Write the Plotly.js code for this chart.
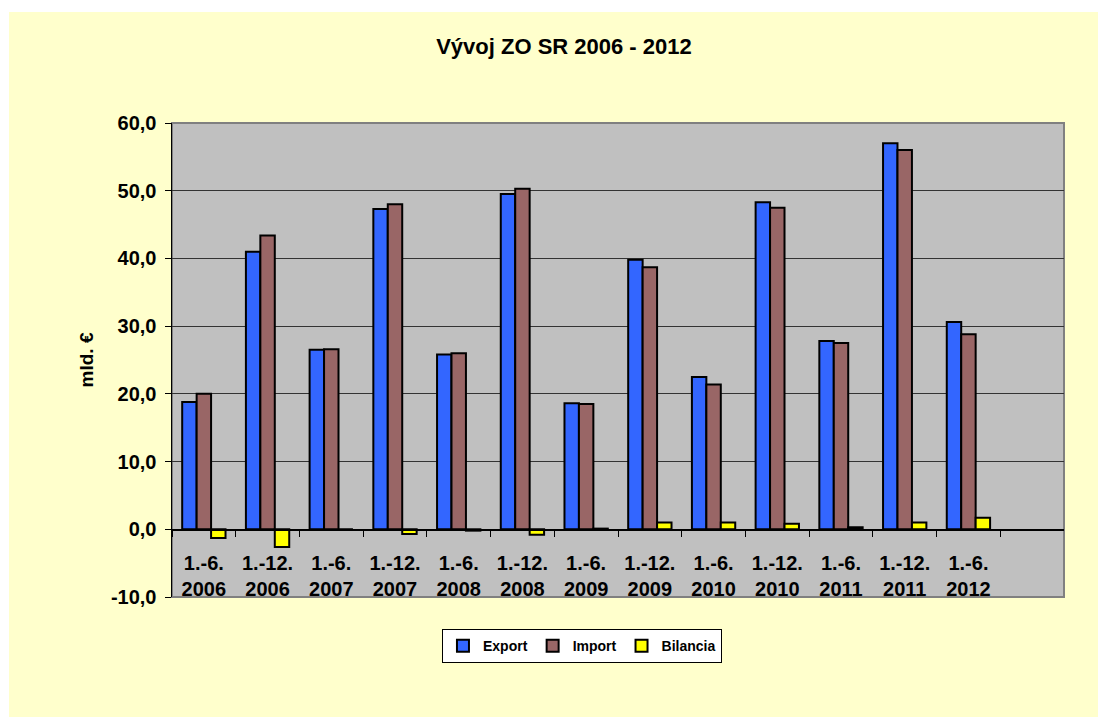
<!DOCTYPE html>
<html>
<head>
<meta charset="utf-8">
<script src="https://cdn.plot.ly/plotly-3.0.1.min.js"></script>
<style>
  html, body { margin: 0; padding: 0; background: #FFFFCC; overflow: hidden; width: 1098px; height: 717px; }
  #bg { position: absolute; left: 0; top: 0; width: 1098px; height: 12px; background: #ffffff; }
  #bgl { position: absolute; left: 0; top: 0; width: 9px; height: 717px; background: #ffffff; }
  #chart { position: absolute; left: 9px; top: 12px; width: 1089px; height: 705px; }
</style>
</head>
<body>
<div id="bg"></div>
<div id="bgl"></div>
<div id="chart"></div>
<script>
const periods = ['1.-6.', '1.-12.', '1.-6.', '1.-12.', '1.-6.', '1.-12.', '1.-6.', '1.-12.', '1.-6.', '1.-12.', '1.-6.', '1.-12.', '1.-6.'];
const years = ['2006', '2006', '2007', '2007', '2008', '2008', '2009', '2009', '2010', '2010', '2011', '2011', '2012'];
const exportVals = [18.8, 41.0, 26.5, 47.3, 25.8, 49.5, 18.6, 39.8, 22.5, 48.3, 27.8, 57.0, 30.6];
const importVals = [20.0, 43.4, 26.6, 48.0, 26.0, 50.3, 18.5, 38.7, 21.4, 47.5, 27.5, 56.0, 28.8];
const bilanciaVals = [-1.3, -2.6, 0.0, -0.7, -0.2, -0.8, 0.1, 1.0, 1.0, 0.8, 0.3, 1.0, 1.7];
const yTickVals = [-10, 0, 10, 20, 30, 40, 50, 60];
const yTickText = ['-10,0', '0,0', '10,0', '20,0', '30,0', '40,0', '50,0', '60,0'];

const cats = periods.map((p, i) => p + '<br>' + years[i]);

const lineStyle = { color: '#000000', width: 2 };
const traces = [
  { type: 'bar', name: 'Export', x: cats, y: exportVals, marker: { color: '#3366FF', line: lineStyle } },
  { type: 'bar', name: 'Import', x: cats, y: importVals, marker: { color: '#996666', line: lineStyle } },
  { type: 'bar', name: 'Bilancia', x: cats, y: bilanciaVals, marker: { color: '#FFFF00', line: lineStyle } }
];

const yMin = -10, yMax = 60;
const layout = {
  width: 1089, height: 705,
  paper_bgcolor: '#FFFFCC',
  plot_bgcolor: '#C0C0C0',
  margin: { l: 163, r: 34, t: 111, b: 120 },
  font: { family: 'Liberation Sans, Arial, sans-serif', color: '#000000' },
  title: {
    text: '<b>Vývoj ZO SR 2006 - 2012</b>',
    font: { size: 22, color: '#000000' },
    xref: 'container', x: 0.5096, xanchor: 'center',
    yref: 'container', y: 0.952, yanchor: 'middle'
  },
  barmode: 'group',
  bargap: 0.32,
  bargroupgap: 0,
  showlegend: true,
  legend: {
    orientation: 'h',
    x: 0.4596, xanchor: 'center',
    y: -0.068, yanchor: 'top',
    bgcolor: '#FFFFFF', bordercolor: '#000000', borderwidth: 1,
    font: { size: 14, color: '#000000', weight: 'bold' },
    itemwidth: 30,
    itemclick: false
  },
  xaxis: {
    type: 'category',
    range: [-0.5, 13.5],
    anchor: 'free',
    position: (0 - yMin) / (yMax - yMin),
    showline: true, linecolor: '#000000', linewidth: 1.5,
    ticks: 'outside', tickson: 'boundaries', ticklen: 6, tickcolor: '#000000', tickwidth: 1,
    tickfont: { size: 20, color: '#000000', weight: 'bold' },
    ticklabelstandoff: 15,
    showgrid: false, zeroline: false,
    fixedrange: true
  },
  yaxis: {
    range: [yMin, yMax],
    tickvals: yTickVals, ticktext: yTickText,
    showline: true, linecolor: '#000000', linewidth: 1.5,
    ticks: 'outside', ticklen: 6, tickcolor: '#000000',
    tickfont: { size: 20, color: '#000000', weight: 'bold' },
    ticklabelstandoff: 4,
    showgrid: true, gridcolor: '#333333', gridwidth: 1,
    zeroline: false,
    title: { text: '<b>mld. €</b>', font: { size: 19, color: '#000000' }, standoff: 12 },
    fixedrange: true
  },
  shapes: [
    { type: 'rect', xref: 'paper', yref: 'paper', x0: 0, x1: 1, y0: 0, y1: 1,
      line: { color: '#808080', width: 2 }, fillcolor: 'rgba(0,0,0,0)', layer: 'below' }
  ]
};

Plotly.newPlot('chart', traces, layout, { displayModeBar: false, staticPlot: true });
</script>
</body>
</html>
